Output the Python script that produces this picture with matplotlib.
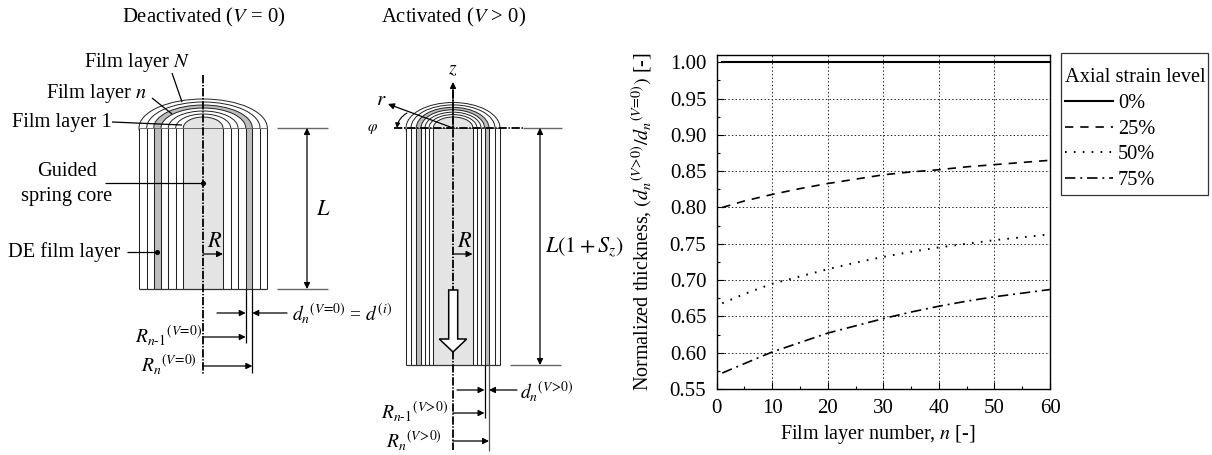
import matplotlib
matplotlib.use('Agg')
import numpy as np
import matplotlib.pyplot as plt
from matplotlib.patches import Ellipse, Rectangle, Polygon, FancyArrowPatch

plt.rcParams['font.family'] = ['Liberation Serif', 'DejaVu Serif']
plt.rcParams['mathtext.fontset'] = 'stix'
plt.rcParams['lines.scale_dashes'] = False

# chart data
layers = [1, 5, 10, 15, 20, 25, 30, 35, 40, 45, 50, 55, 60]
strain_0 = [1.0] * 13
strain_25 = [0.800, 0.809, 0.818, 0.826, 0.833, 0.839, 0.845, 0.849, 0.852, 0.856, 0.859, 0.862, 0.865]
strain_50 = [0.668, 0.681, 0.695, 0.705, 0.715, 0.724, 0.732, 0.739, 0.745, 0.750, 0.755, 0.759, 0.763]
strain_75 = [0.572, 0.585, 0.601, 0.614, 0.627, 0.637, 0.647, 0.656, 0.664, 0.671, 0.677, 0.682, 0.687]
strain_labels = ['0%', '25%', '50%', '75%']
x_ticks = [0, 10, 20, 30, 40, 50, 60]
y_ticks = [0.55, 0.60, 0.65, 0.70, 0.75, 0.80, 0.85, 0.90, 0.95, 1.00]

# schematic geometry, in image pixels
left_walls = [139, 146.7, 153.7, 161, 168.3, 175.7, 183.3, 223, 230.7, 238, 245.7, 252.3, 260, 267.3]
right_walls = [406, 411, 416.3, 421, 425, 429, 433.3, 473, 477, 481, 484.5, 489, 495, 500]

W, H = 1212, 455
FS = 14.7
fig = plt.figure(figsize=(W / 100, H / 100), dpi=100)

sk = fig.add_axes([0, 0, 1, 1])
sk.set_xlim(0, W)
sk.set_ylim(H, 0)
sk.axis('off')


def arrow(x0, y0, x1, y1, style='-|>', lw=0.9):
    sk.add_patch(FancyArrowPatch((x0, y0), (x1, y1), arrowstyle=style, mutation_scale=9,
                                 shrinkA=0, shrinkB=0, lw=lw, color='black', zorder=6))


def line(x0, y0, x1, y1, color='black', lw=0.9, ls='-'):
    sk.plot([x0, x1], [y0, y1], color=color, lw=lw, ls=ls, zorder=5, solid_capstyle='butt')


def dot(x, y):
    sk.plot([x], [y], 'o', color='black', ms=2.6, zorder=6)


def txt(x, y, s, size=FS, ha='left'):
    # va=center sits a little high for this font
    sk.text(x, y + 1.5, s, fontsize=size, ha=ha, va='center', zorder=7)


def cylinder(walls, cx, top, bottom, dome_out, dome_in, grey_idx):
    n = len(walls) // 2
    heights = np.linspace(dome_out, dome_in, n)
    for i in range(n):
        wl, wr = walls[i], walls[-1 - i]
        w = wr - wl
        if i == n - 1:
            fc = '#e4e4e4'
        elif i == grey_idx:
            fc = '#bdbdbd'
        else:
            fc = 'white'
        sk.add_patch(Ellipse(((wl + wr) / 2, top), w, 2 * heights[i], fc=fc, ec='#222222', lw=0.7,
                             zorder=2 + i * 0.01))
        sk.add_patch(Rectangle((wl, top), w, bottom - top, fc=fc, ec='none', zorder=2.5 + i * 0.01))
    for i in range(n):
        line(walls[i], top, walls[i], bottom, lw=0.75, color='#222222')
        line(walls[-1 - i], top, walls[-1 - i], bottom, lw=0.75, color='#222222')
    line(walls[0], bottom, walls[-1], bottom, lw=0.9, color='#333333')
    line(walls[0], top, walls[-1], top, lw=0.6, color='#555555')


cylinder(left_walls, 203, 128, 289, 29, 11, 2)
cylinder(right_walls, 453, 128, 365, 25.5, 11, 2)

axis_ls = (0, (6, 1.2, 1, 1.2))

# left schematic
txt(122, 16, r'Deactivated ($V$ = 0)', 14.9)
line(203, 75, 203, 374, lw=1.3, ls=axis_ls)
txt(84, 61, r'Film layer $N$')
txt(46, 92, r'Film layer $n$')
txt(12, 121, 'Film layer 1')
line(172, 73, 182, 102)
line(152, 98, 172, 114)
line(112, 122, 182, 125)
txt(67, 170, 'Guided', ha='center')
txt(67, 195, 'spring core', ha='center')
line(105, 183, 203, 183)
dot(203, 183)
txt(8, 251, 'DE film layer')
line(127, 252, 157, 252)
dot(157, 252)
txt(207, 241, r'$R$', 16)
arrow(203, 254, 223, 254)
line(277, 128, 328, 128, color='#666666', lw=1)
line(277, 289, 328, 289, color='#666666', lw=1)
arrow(307, 128, 307, 289, style='<|-|>')
txt(316, 209, r'$L$', 16)
line(245.7, 289, 245.7, 343)
line(252.3, 289, 252.3, 373)
arrow(217, 313, 245.7, 313)
arrow(287, 313, 252.3, 313)
txt(292, 312, r'$d_n{}^{(V\!=\!0)}$ = $d^{(i)}$', 14)
arrow(203, 337, 245.7, 337)
arrow(203, 366, 252.3, 366)
txt(135, 334, r'$R_{n\text{-}1}{}^{(V\!=\!0)}$', 14)
txt(141, 363, r'$R_n{}^{(V\!=\!0)}$', 14)

# right schematic
txt(381, 16, r'Activated ($V$ > 0)', 14.9)
line(453, 90, 453, 450, lw=1.3, ls=axis_ls)
arrow(453, 128, 453, 82, lw=0.9)
txt(453, 68, r'$z$', 14, ha='center')
arrow(453, 128, 388, 104)
txt(376, 99, r'$r$', 15)
txt(367, 127, r'$\varphi$', 11)
line(394, 128, 523, 128, lw=1.3, ls=axis_ls)
line(523, 128, 562, 128, color='#666666', lw=1)
line(510, 365, 561, 365, color='#666666', lw=1)
sk.add_patch(FancyArrowPatch((407, 113), (397, 128), connectionstyle='arc3,rad=0.25', arrowstyle='-|>',
                             mutation_scale=7, shrinkA=0, shrinkB=0, lw=0.8, color='black', zorder=6))
txt(457, 241, r'$R$', 16)
arrow(453, 254, 472.5, 254)
arrow(540, 128, 540, 365, style='<|-|>')
txt(545, 246, r'$L(1+S_z)$', 16)
sk.add_patch(Polygon([(448.7, 290), (457.7, 290), (457.7, 339), (466.7, 339), (453, 352),
                      (439.3, 339), (448.7, 339)], closed=True, fc='white', ec='black', lw=1.1, zorder=6))
line(484.5, 365, 484.5, 418)
line(489, 365, 489, 451, color='#555555')
arrow(457, 390, 484.5, 390)
arrow(517, 390, 489, 390)
txt(520, 390, r'$d_n{}^{(V\!>\!0)}$', 14)
arrow(453, 413, 484.5, 413)
arrow(453, 441, 489, 441)
txt(381, 410, r'$R_{n\text{-}1}{}^{(V\!>\!0)}$', 14)
txt(386, 439, r'$R_n{}^{(V\!>\!0)}$', 14)

# legend frame
sk.add_patch(Rectangle((1060.7, 53), 147.3, 142, fc='white', ec='#333333', lw=0.9, zorder=3))

# chart
ax = fig.add_axes([716.7 / W, 1 - 389 / H, (1050 - 716.7) / W, (389 - 55) / H])
ax.plot(layers, strain_0, color='black', lw=1.5, ls='-', label=strain_labels[0])
ax.plot(layers, strain_25, color='black', lw=1.2, ls=(0, (6, 5)), label=strain_labels[1])
ax.plot(layers, strain_50, color='black', lw=1.4, ls=(0, (1.2, 5.2)), label=strain_labels[2])
ax.plot(layers, strain_75, color='black', lw=1.2, ls=(0, (7.5, 3.5, 1.4, 3.5)), label=strain_labels[3])
ax.set_xlim(0, 60)
ax.set_ylim(0.55, 1.01)
ax.set_xticks(x_ticks)
ax.set_yticks(y_ticks)
ax.set_yticklabels(['%.2f' % t for t in y_ticks])
ax.set_xticks(np.arange(5, 60, 10), minor=True)
ax.set_yticks(np.arange(0.575, 1.0, 0.05), minor=True)
ax.tick_params(which='major', direction='in', length=5, width=0.8, labelsize=15, pad=7.5)
ax.tick_params(which='minor', direction='in', length=2.5, width=0.8)
ax.grid(True, which='major', color='#222222', ls=(0, (1, 1.6)), lw=0.7)
ax.set_axisbelow(True)
for s in ax.spines.values():
    s.set_linewidth(1.0)
ax.set_xlabel(r'Film layer number, $n$ [-]', fontsize=14.5, labelpad=3)
ax.xaxis.label.set_x(0.482)
ax.set_ylabel(r'Normalized thickness, $(d_n{}^{(V\!>\!0)}/d_n{}^{(V\!=\!0)})$ [-]', fontsize=14.5, labelpad=11.5)

leg = ax.legend(title='Axial strain level', loc='upper left', bbox_to_anchor=(1065 / W, 1 - 68 / H),
                bbox_transform=fig.transFigure, fontsize=FS, title_fontsize=FS, frameon=False,
                handlelength=2.35, handletextpad=0.25, labelspacing=0.32, borderpad=0,
                borderaxespad=0, alignment='left')

fig.savefig('out.png', dpi=100)
